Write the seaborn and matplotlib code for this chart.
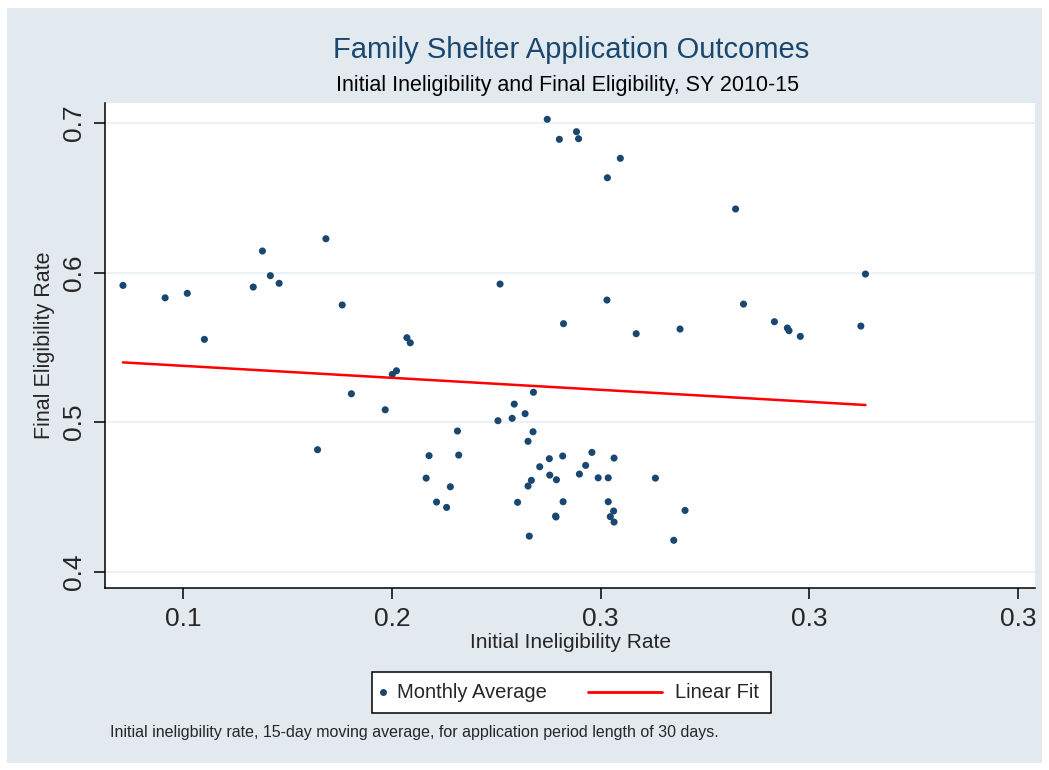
import matplotlib

matplotlib.use("Agg")
import matplotlib.pyplot as plt
import numpy as np
import pandas as pd
import seaborn as sns
from matplotlib.lines import Line2D
from matplotlib.patches import Rectangle

# Monthly averages
initial_inelig = [
    0.1356, 0.1457, 0.1510, 0.1551, 0.1668, 0.1690, 0.1709, 0.1730, 0.1822, 0.1842,
    0.1881, 0.1903, 0.1984, 0.2001, 0.2011, 0.2036, 0.2044, 0.2082, 0.2089, 0.2107,
    0.2131, 0.2140, 0.2157, 0.2160, 0.2254, 0.2259, 0.2288, 0.2293, 0.2301, 0.2319,
    0.2326, 0.2329, 0.2326, 0.2334, 0.2338, 0.2339, 0.2354, 0.2372, 0.2377, 0.2378,
    0.2394, 0.2392, 0.2393, 0.2401, 0.2409, 0.2410, 0.2411, 0.2442, 0.2447, 0.2449,
    0.2464, 0.2479, 0.2494, 0.2515, 0.2516, 0.2518, 0.2518, 0.2523, 0.2531, 0.2532,
    0.2532, 0.2547, 0.2585, 0.2631, 0.2675, 0.2690, 0.2702, 0.2823, 0.2842, 0.2916,
    0.2947, 0.2951, 0.2978, 0.3123, 0.3134,
]
final_elig = [
    0.5914, 0.5831, 0.5861, 0.5553, 0.5903, 0.6144, 0.5979, 0.5928, 0.4815, 0.6226,
    0.5783, 0.5189, 0.5082, 0.5319, 0.5343, 0.5564, 0.5530, 0.4625, 0.4775, 0.4465,
    0.4429, 0.4567, 0.4940, 0.4779, 0.5009, 0.5923, 0.5025, 0.5120, 0.4463, 0.5056,
    0.4871, 0.4237, 0.4572, 0.4610, 0.4935, 0.5199, 0.4701, 0.7025, 0.4755, 0.4645,
    0.4614, 0.4371, 0.4365, 0.6891, 0.4773, 0.4467, 0.5658, 0.6942, 0.6895, 0.4652,
    0.4710, 0.4797, 0.4627, 0.5816, 0.6634, 0.4627, 0.4467, 0.4367, 0.4405, 0.4759,
    0.4331, 0.6764, 0.5591, 0.4625, 0.4209, 0.5622, 0.4409, 0.6425, 0.5789, 0.5671,
    0.5629, 0.5611, 0.5573, 0.5642, 0.5990,
]

x_ticks = [0.15, 0.20, 0.25, 0.30, 0.35]
x_tick_labels = ["0.1", "0.2", "0.3", "0.3", "0.3"]
y_ticks = [0.4, 0.5, 0.6, 0.7]
y_tick_labels = ["0.4", "0.5", "0.6", "0.7"]

NAVY = "#1a476f"
RED = "#ff0000"
BG = "#e2e9ef"
W, H = 1049, 770


def fx(px):
    return px / W


def fy(py):
    return 1 - py / H


sns.set_theme(style="white")
plt.rcParams["font.family"] = ["Liberation Sans", "DejaVu Sans"]

df = pd.DataFrame({"x": initial_inelig, "y": final_elig})

# Linear fit over the observed range
slope, intercept = np.polyfit(df["x"], df["y"], 1)
fit = pd.DataFrame({"x": [df["x"].min(), df["x"].max()]})
fit["y"] = intercept + slope * fit["x"]

fig = plt.figure(figsize=(W / 100, H / 100), dpi=100)
fig.patch.set_facecolor("white")
fig.patches.append(
    Rectangle((fx(7), fy(763)), 1035 / W, 755 / H,
              transform=fig.transFigure, facecolor=BG, edgecolor="none", zorder=-10)
)

ax = fig.add_axes([fx(105), fy(588), 930 / W, 485 / H])
ax.set_facecolor("white")

sns.scatterplot(data=df, x="x", y="y", ax=ax, color=NAVY, s=26, edgecolor="none",
                zorder=3, legend=False)
sns.lineplot(data=fit, x="x", y="y", ax=ax, color=RED, linewidth=1.8,
             zorder=4, legend=False)

ax.set_xlim(0.1313, 0.354)
ax.set_ylim(0.389, 0.7134)
ax.set_xticks(x_ticks)
ax.set_xticklabels(x_tick_labels, fontsize=19)
ax.set_yticks(y_ticks)
ax.set_yticklabels(y_tick_labels, fontsize=19, rotation=90, va="center")

ax.grid(axis="y", color="#eaf2f3", linewidth=1.6, zorder=0)
ax.grid(axis="x", visible=False)
for side in ["top", "right"]:
    ax.spines[side].set_visible(False)
for side in ["left", "bottom"]:
    ax.spines[side].set_color("black")
    ax.spines[side].set_linewidth(1.1)
ax.tick_params(axis="both", direction="out", length=8, width=1.1, color="black",
               bottom=True, left=True, pad=6)

ax.set_xlabel("Initial Ineligibility Rate", fontsize=15)
ax.set_ylabel("Final Eligibility Rate", fontsize=15.5)
ax.xaxis.set_label_coords(0.5, -(643 - 588) / 485, transform=ax.transAxes)
ax.xaxis.label.set_va("center")
ax.yaxis.set_label_coords(-(105 - 45) / 930, 0.5, transform=ax.transAxes)
ax.yaxis.label.set_va("center")

fig.text(fx(571), fy(50), "Family Shelter Application Outcomes",
         ha="center", va="center", fontsize=21, color=NAVY)
fig.text(fx(567), fy(86), "Initial Ineligibility and Final Eligibility, SY 2010-15",
         ha="center", va="center", fontsize=15.5, color="black")

# Legend box laid out like the Stata one: marker-only key, then line key
fig.patches.append(
    Rectangle((fx(372), fy(713)), 399 / W, 41 / H, transform=fig.transFigure,
              facecolor="white", edgecolor="black", linewidth=1.1, zorder=5)
)
fig.lines.append(Line2D([fx(383)], [fy(692)], transform=fig.transFigure, marker="o",
                        markersize=4, color=NAVY, linestyle="none", zorder=6))
fig.text(fx(397), fy(692), "Monthly Average", ha="left", va="center", fontsize=14.5,
         zorder=6)
fig.lines.append(Line2D([fx(588), fx(662)], [fy(692), fy(692)], transform=fig.transFigure,
                        color=RED, linewidth=2, zorder=6))
fig.text(fx(675), fy(692), "Linear Fit", ha="left", va="center", fontsize=14.5, zorder=6)

fig.text(fx(110), fy(733),
         "Initial ineligbility rate, 15-day moving average, for application period length of 30 days.",
         ha="left", va="center", fontsize=11.5)

fig.savefig("out.png", dpi=100, facecolor=fig.get_facecolor())
